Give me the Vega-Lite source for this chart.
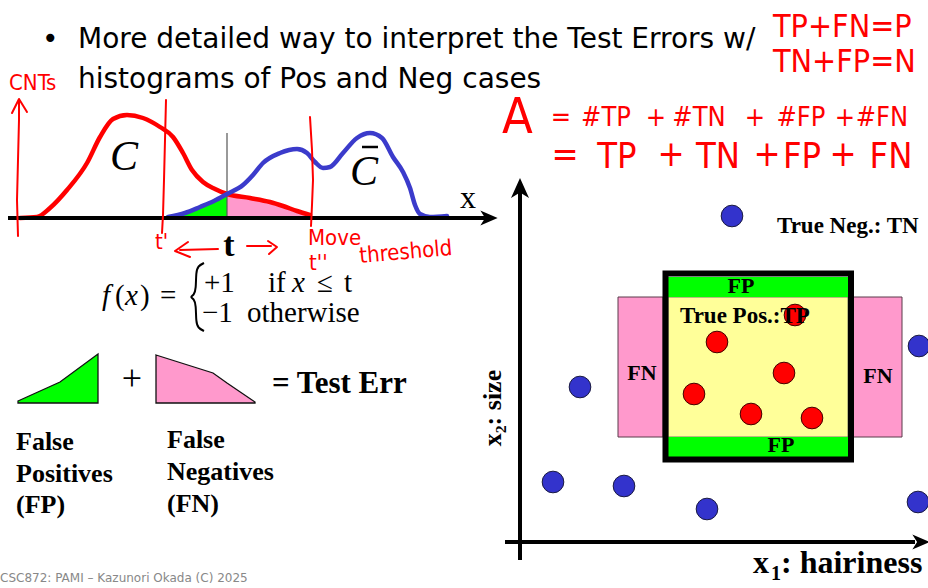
{
  "$schema": "https://vega.github.io/schema/vega-lite/v6.json",
  "width": 928,
  "height": 588,
  "autosize": "none",
  "padding": 0,
  "background": "white",
  "config": {"view": {"stroke": null}},
  "datasets": {
    "curveC": [
      {"x": 20, "y": 218}, {"x": 37, "y": 217}, {"x": 50, "y": 208}, {"x": 67, "y": 190},
      {"x": 87, "y": 163}, {"x": 100, "y": 137}, {"x": 113, "y": 119}, {"x": 127, "y": 115},
      {"x": 143, "y": 118}, {"x": 160, "y": 127}, {"x": 173, "y": 137}, {"x": 183, "y": 153},
      {"x": 192, "y": 170}, {"x": 203, "y": 182}, {"x": 215, "y": 189}, {"x": 227, "y": 194},
      {"x": 250, "y": 198}, {"x": 270, "y": 202}, {"x": 283, "y": 206}, {"x": 297, "y": 211},
      {"x": 310, "y": 215}
    ],
    "curveCbar": [
      {"x": 168, "y": 217}, {"x": 185, "y": 213}, {"x": 200, "y": 207}, {"x": 214, "y": 201},
      {"x": 227, "y": 194}, {"x": 243, "y": 185}, {"x": 253, "y": 175}, {"x": 263, "y": 163},
      {"x": 280, "y": 153}, {"x": 297, "y": 149}, {"x": 307, "y": 153}, {"x": 315, "y": 162},
      {"x": 323, "y": 168}, {"x": 330, "y": 167}, {"x": 343, "y": 153}, {"x": 357, "y": 138},
      {"x": 370, "y": 133}, {"x": 382, "y": 138}, {"x": 393, "y": 157}, {"x": 403, "y": 172},
      {"x": 410, "y": 188}, {"x": 415, "y": 205}, {"x": 420, "y": 214}, {"x": 430, "y": 217},
      {"x": 447, "y": 216}
    ],
    "fpShape": [{"x": 18, "y": 401}, {"x": 60, "y": 382}, {"x": 98, "y": 354}],
    "fnShape": [{"x": 156, "y": 355}, {"x": 213, "y": 373}, {"x": 227, "y": 383}, {"x": 255, "y": 402}],
    "axes": [
      {"x": 8, "y": 218, "x2": 488, "y2": 218},
      {"x": 520, "y": 192, "x2": 520, "y2": 560},
      {"x": 505, "y": 542, "x2": 915, "y2": 542}
    ],
    "arrowRight": [{"x": 489, "y": 218}, {"x": 921, "y": 542}],
    "arrowUp": [{"x": 520, "y": 188}],
    "thresholdLine": [{"x": 227, "y": 133, "x2": 227, "y2": 218}],
    "pinkBands": [
      {"x": 618, "x2": 663, "y": 297, "y2": 437},
      {"x": 851, "x2": 902, "y": 297, "y2": 437}
    ],
    "yellowCore": [{"x": 668, "x2": 848, "y": 297, "y2": 437}],
    "greenBands": [
      {"x": 668, "x2": 848, "y": 277, "y2": 297},
      {"x": 668, "x2": 848, "y": 437, "y2": 457}
    ],
    "frame": [{"x": 665.5, "x2": 851, "y": 273.5, "y2": 459.5}],
    "negatives": [
      {"x": 732, "y": 216}, {"x": 580, "y": 387}, {"x": 553, "y": 482}, {"x": 624, "y": 486},
      {"x": 707, "y": 509}, {"x": 919, "y": 346}, {"x": 918, "y": 502}
    ],
    "positives": [
      {"x": 795, "y": 315}, {"x": 717, "y": 342}, {"x": 784, "y": 373},
      {"x": 694, "y": 394}, {"x": 751, "y": 414}, {"x": 812, "y": 418}
    ],
    "ink": [
      {"s": "cnts", "k": 0, "x": 18, "y": 236}, {"s": "cnts", "k": 1, "x": 17, "y": 200},
      {"s": "cnts", "k": 2, "x": 18, "y": 160}, {"s": "cnts", "k": 3, "x": 19, "y": 120},
      {"s": "cnts", "k": 4, "x": 19, "y": 100},
      {"s": "cntsHead", "k": 0, "x": 12, "y": 113}, {"s": "cntsHead", "k": 1, "x": 19, "y": 99},
      {"s": "cntsHead", "k": 2, "x": 27, "y": 112},
      {"s": "t1", "k": 0, "x": 166, "y": 100}, {"s": "t1", "k": 1, "x": 165, "y": 140},
      {"s": "t1", "k": 2, "x": 164, "y": 180}, {"s": "t1", "k": 3, "x": 163, "y": 215},
      {"s": "t1", "k": 4, "x": 162, "y": 233},
      {"s": "t2", "k": 0, "x": 310, "y": 117}, {"s": "t2", "k": 1, "x": 312, "y": 150},
      {"s": "t2", "k": 2, "x": 313, "y": 180}, {"s": "t2", "k": 3, "x": 312, "y": 205},
      {"s": "t2", "k": 4, "x": 311, "y": 226},
      {"s": "leftShaft", "k": 0, "x": 180, "y": 250}, {"s": "leftShaft", "k": 1, "x": 218, "y": 249},
      {"s": "leftHead", "k": 0, "x": 188, "y": 242}, {"s": "leftHead", "k": 1, "x": 175, "y": 251},
      {"s": "leftHead", "k": 2, "x": 190, "y": 257},
      {"s": "rightShaft", "k": 0, "x": 247, "y": 246}, {"s": "rightShaft", "k": 1, "x": 271, "y": 246},
      {"s": "rightHead", "k": 0, "x": 268, "y": 241}, {"s": "rightHead", "k": 1, "x": 277, "y": 247},
      {"s": "rightHead", "k": 2, "x": 269, "y": 254}
    ],
    "brace": [
      {"k": 0, "x": 204, "y": 263}, {"k": 1, "x": 198, "y": 266}, {"k": 2, "x": 196, "y": 272},
      {"k": 3, "x": 196, "y": 289}, {"k": 4, "x": 194, "y": 295}, {"k": 5, "x": 190, "y": 297},
      {"k": 6, "x": 194, "y": 299}, {"k": 7, "x": 196, "y": 305}, {"k": 8, "x": 196, "y": 322},
      {"k": 9, "x": 198, "y": 328}, {"k": 10, "x": 204, "y": 331}
    ],
    "cbarBar": [{"x": 362, "y": 147, "x2": 378, "y2": 147}],
    "heading": [
      {"x": 42, "y": 48, "t": "•"},
      {"x": 78, "y": 48, "t": "More detailed way to interpret the Test Errors w/"},
      {"x": 78, "y": 88, "t": "histograms of Pos and Neg cases"}
    ],
    "footer": [{"x": 0, "y": 582, "t": "CSC872: PAMI – Kazunori Okada (C) 2025"}],
    "classLabels": [{"x": 124, "y": 170, "t": "C"}, {"x": 364, "y": 185, "t": "C"}],
    "xHist": [{"x": 468, "y": 208, "t": "x"}],
    "tBold": [{"x": 229, "y": 256, "t": "t"}],
    "formulaUpright": [
      {"x": 115, "y": 305, "t": "("}, {"x": 140, "y": 305, "t": ")"}, {"x": 160, "y": 305, "t": "="},
      {"x": 204, "y": 292, "t": "+1"}, {"x": 268, "y": 292, "t": "if"},
      {"x": 317, "y": 292, "t": "≤"}, {"x": 344, "y": 292, "t": "t"},
      {"x": 202, "y": 322, "t": "−1"}, {"x": 247, "y": 322, "t": "otherwise"}
    ],
    "formulaItalic": [
      {"x": 102, "y": 305, "t": "f"}, {"x": 125, "y": 305, "t": "x"}, {"x": 292, "y": 292, "t": "x"}
    ],
    "plusSign": [{"x": 132, "y": 390, "t": "+"}],
    "testErr": [{"x": 272, "y": 393, "t": "= Test Err"}],
    "legendWords": [
      {"x": 16, "y": 450, "t": "False"}, {"x": 16, "y": 482, "t": "Positives"}, {"x": 16, "y": 513, "t": "(FP)"},
      {"x": 167, "y": 448, "t": "False"}, {"x": 167, "y": 480, "t": "Negatives"}, {"x": 167, "y": 512, "t": "(FN)"}
    ],
    "regionLabels": [
      {"x": 777, "y": 233, "t": "True Neg.: TN"},
      {"x": 680, "y": 323, "t": "True Pos.:TP"}
    ],
    "cellLabels": [
      {"x": 741, "y": 293, "t": "FP"}, {"x": 781, "y": 452, "t": "FP"},
      {"x": 642, "y": 380, "t": "FN"}, {"x": 878, "y": 383, "t": "FN"}
    ],
    "axisTitle": [{"x": 753, "y": 573, "t": "x"}, {"x": 781, "y": 573, "t": ": hairiness"}],
    "axisSub": [{"x": 771, "y": 580, "t": "1"}],
    "yTitle": [{"x": 501, "y": 408, "t": "x₂: size"}],
    "handBig": [{"x": 773, "y": 37, "t": "TP+FN=P"}, {"x": 773, "y": 72, "t": "TN+FP=N"}],
    "handA": [{"x": 502, "y": 133, "t": "A"}],
    "handSum1": [
      {"x": 561, "y": 126, "t": "="}, {"x": 606, "y": 126, "t": "#TP"}, {"x": 656, "y": 126, "t": "+"},
      {"x": 699, "y": 126, "t": "#TN"}, {"x": 755, "y": 126, "t": "+"}, {"x": 801, "y": 126, "t": "#FP"},
      {"x": 845, "y": 126, "t": "+"}, {"x": 882, "y": 126, "t": "#FN"}
    ],
    "handSum2": [
      {"x": 565, "y": 166, "t": "="}, {"x": 617, "y": 168, "t": "TP"}, {"x": 671, "y": 166, "t": "+"},
      {"x": 718, "y": 168, "t": "TN"}, {"x": 767, "y": 166, "t": "+"}, {"x": 802, "y": 168, "t": "FP"},
      {"x": 843, "y": 166, "t": "+"}, {"x": 891, "y": 168, "t": "FN"}
    ],
    "handSmall": [
      {"x": 9, "y": 90, "t": "CNTs"}, {"x": 155, "y": 249, "t": "t'"},
      {"x": 308, "y": 245, "t": "Move"}, {"x": 309, "y": 270, "t": "t''"}
    ],
    "handTilt": [{"x": 360, "y": 263, "t": "threshold"}]
  },
  "encoding": {
    "x": {"field": "x", "type": "quantitative", "scale": {"domain": [0, 928], "nice": false, "zero": false}, "axis": null},
    "y": {"field": "y", "type": "quantitative", "scale": {"domain": [0, 588], "nice": false, "zero": false, "reverse": true}, "axis": null}
  },
  "layer": [
    {
      "data": {"name": "curveCbar"},
      "transform": [{"filter": "datum.x <= 227"}],
      "mark": {"type": "area", "orient": "vertical", "interpolate": "monotone", "color": "#00FF00"},
      "encoding": {"y2": {"datum": 218}}
    },
    {
      "data": {"name": "curveC"},
      "transform": [{"filter": "datum.x >= 227"}],
      "mark": {"type": "area", "orient": "vertical", "interpolate": "monotone", "color": "#FF99CC"},
      "encoding": {"y2": {"datum": 218}}
    },
    {
      "data": {"name": "fpShape"},
      "mark": {"type": "area", "orient": "vertical", "fill": "#00FF00", "stroke": "#111111", "strokeWidth": 1.3},
      "encoding": {"y2": {"datum": 403}}
    },
    {
      "data": {"name": "fnShape"},
      "mark": {"type": "area", "orient": "vertical", "fill": "#FF99CC", "stroke": "#111111", "strokeWidth": 1.3},
      "encoding": {"y2": {"datum": 403}}
    },
    {
      "data": {"name": "thresholdLine"},
      "mark": {"type": "rule", "color": "#555555", "strokeWidth": 1.2},
      "encoding": {"x2": {"field": "x2"}, "y2": {"field": "y2"}}
    },
    {
      "data": {"name": "curveC"},
      "mark": {"type": "line", "interpolate": "monotone", "color": "#FF0000", "strokeWidth": 4.5, "strokeCap": "round"},
      "encoding": {}
    },
    {
      "data": {"name": "curveCbar"},
      "mark": {"type": "line", "interpolate": "monotone", "color": "#3B3BCB", "strokeWidth": 4.5, "strokeCap": "round"},
      "encoding": {}
    },
    {
      "data": {"name": "axes"},
      "mark": {"type": "rule", "color": "black", "strokeWidth": 4},
      "encoding": {"x2": {"field": "x2"}, "y2": {"field": "y2"}}
    },
    {
      "data": {"name": "arrowRight"},
      "mark": {"type": "point", "shape": "M 1 0 L -1 -0.88 L -0.45 0 L -1 0.88 Z", "filled": true, "color": "black", "opacity": 1, "size": 300, "strokeWidth": 0}
    },
    {
      "data": {"name": "arrowUp"},
      "mark": {"type": "point", "shape": "M 0 -1 L 0.9 1 L 0 0.45 L -0.9 1 Z", "filled": true, "color": "black", "opacity": 1, "size": 400, "strokeWidth": 0}
    },
    {
      "data": {"name": "pinkBands"},
      "mark": {"type": "rect", "fill": "#FF99CC", "stroke": "#5a3a4a", "strokeWidth": 1},
      "encoding": {"x2": {"field": "x2"}, "y2": {"field": "y2"}}
    },
    {
      "data": {"name": "yellowCore"},
      "mark": {"type": "rect", "fill": "#FFFF99", "stroke": "#555555", "strokeWidth": 0.8},
      "encoding": {"x2": {"field": "x2"}, "y2": {"field": "y2"}}
    },
    {
      "data": {"name": "greenBands"},
      "mark": {"type": "rect", "fill": "#00FF00"},
      "encoding": {"x2": {"field": "x2"}, "y2": {"field": "y2"}}
    },
    {
      "data": {"name": "frame"},
      "mark": {"type": "rect", "fill": null, "stroke": "black", "strokeWidth": 6},
      "encoding": {"x2": {"field": "x2"}, "y2": {"field": "y2"}}
    },
    {
      "data": {"name": "negatives"},
      "mark": {"type": "circle", "fill": "#3333CC", "stroke": "#1a1a40", "strokeWidth": 1, "opacity": 1, "size": 470}
    },
    {
      "data": {"name": "positives"},
      "mark": {"type": "circle", "fill": "#FF0000", "stroke": "#400000", "strokeWidth": 1, "opacity": 1, "size": 470}
    },
    {
      "data": {"name": "ink"},
      "mark": {"type": "line", "color": "#FF0000", "strokeWidth": 2, "strokeCap": "round", "strokeJoin": "round"},
      "encoding": {"detail": {"field": "s"}, "order": {"field": "k"}}
    },
    {
      "data": {"name": "brace"},
      "mark": {"type": "line", "interpolate": "basis", "color": "black", "strokeWidth": 2},
      "encoding": {"order": {"field": "k"}}
    },
    {
      "data": {"name": "cbarBar"},
      "mark": {"type": "rule", "color": "black", "strokeWidth": 2.5},
      "encoding": {"x2": {"field": "x2"}, "y2": {"field": "y2"}}
    },
    {
      "data": {"name": "heading"},
      "mark": {"type": "text", "font": "DejaVu Sans", "fontSize": 28, "align": "left", "baseline": "alphabetic", "color": "black"},
      "encoding": {"text": {"field": "t"}}
    },
    {
      "data": {"name": "footer"},
      "mark": {"type": "text", "font": "DejaVu Sans", "fontSize": 12, "align": "left", "baseline": "alphabetic", "color": "#888888"},
      "encoding": {"text": {"field": "t"}}
    },
    {
      "data": {"name": "classLabels"},
      "mark": {"type": "text", "font": "Liberation Serif", "fontStyle": "italic", "fontSize": 42, "align": "center", "baseline": "alphabetic", "color": "black"},
      "encoding": {"text": {"field": "t"}}
    },
    {
      "data": {"name": "xHist"},
      "mark": {"type": "text", "font": "Liberation Serif", "fontSize": 32, "align": "center", "baseline": "alphabetic", "color": "black"},
      "encoding": {"text": {"field": "t"}}
    },
    {
      "data": {"name": "tBold"},
      "mark": {"type": "text", "font": "Liberation Serif", "fontWeight": "bold", "fontSize": 34, "align": "center", "baseline": "alphabetic", "color": "black"},
      "encoding": {"text": {"field": "t"}}
    },
    {
      "data": {"name": "formulaUpright"},
      "mark": {"type": "text", "font": "Liberation Serif", "fontSize": 29, "align": "left", "baseline": "alphabetic", "color": "black"},
      "encoding": {"text": {"field": "t"}}
    },
    {
      "data": {"name": "formulaItalic"},
      "mark": {"type": "text", "font": "Liberation Serif", "fontStyle": "italic", "fontSize": 29, "align": "left", "baseline": "alphabetic", "color": "black"},
      "encoding": {"text": {"field": "t"}}
    },
    {
      "data": {"name": "plusSign"},
      "mark": {"type": "text", "font": "Liberation Serif", "fontSize": 36, "align": "center", "baseline": "alphabetic", "color": "black"},
      "encoding": {"text": {"field": "t"}}
    },
    {
      "data": {"name": "testErr"},
      "mark": {"type": "text", "font": "Liberation Serif", "fontWeight": "bold", "fontSize": 31, "align": "left", "baseline": "alphabetic", "color": "black"},
      "encoding": {"text": {"field": "t"}}
    },
    {
      "data": {"name": "legendWords"},
      "mark": {"type": "text", "font": "Liberation Serif", "fontWeight": "bold", "fontSize": 26, "align": "left", "baseline": "alphabetic", "color": "black"},
      "encoding": {"text": {"field": "t"}}
    },
    {
      "data": {"name": "regionLabels"},
      "mark": {"type": "text", "font": "Liberation Serif", "fontWeight": "bold", "fontSize": 23, "align": "left", "baseline": "alphabetic", "color": "black"},
      "encoding": {"text": {"field": "t"}}
    },
    {
      "data": {"name": "cellLabels"},
      "mark": {"type": "text", "font": "Liberation Serif", "fontWeight": "bold", "fontSize": 22, "align": "center", "baseline": "alphabetic", "color": "black"},
      "encoding": {"text": {"field": "t"}}
    },
    {
      "data": {"name": "axisTitle"},
      "mark": {"type": "text", "font": "Liberation Serif", "fontWeight": "bold", "fontSize": 32, "align": "left", "baseline": "alphabetic", "color": "black"},
      "encoding": {"text": {"field": "t"}}
    },
    {
      "data": {"name": "axisSub"},
      "mark": {"type": "text", "font": "Liberation Serif", "fontWeight": "bold", "fontSize": 20, "align": "left", "baseline": "alphabetic", "color": "black"},
      "encoding": {"text": {"field": "t"}}
    },
    {
      "data": {"name": "yTitle"},
      "mark": {"type": "text", "font": "Liberation Serif", "fontWeight": "bold", "fontSize": 26, "align": "center", "baseline": "alphabetic", "angle": 270, "color": "black"},
      "encoding": {"text": {"field": "t"}}
    },
    {
      "data": {"name": "handBig"},
      "mark": {"type": "text", "font": "DejaVu Sans Condensed, Liberation Sans Narrow, Roboto", "fontSize": 32, "align": "left", "baseline": "alphabetic", "color": "#FF0000"},
      "encoding": {"text": {"field": "t"}}
    },
    {
      "data": {"name": "handA"},
      "mark": {"type": "text", "font": "DejaVu Sans Condensed, Liberation Sans Narrow, Roboto", "fontSize": 50, "align": "left", "baseline": "alphabetic", "color": "#FF0000"},
      "encoding": {"text": {"field": "t"}}
    },
    {
      "data": {"name": "handSum1"},
      "mark": {"type": "text", "font": "DejaVu Sans Condensed, Liberation Sans Narrow, Roboto", "fontSize": 27, "align": "center", "baseline": "alphabetic", "color": "#FF0000"},
      "encoding": {"text": {"field": "t"}}
    },
    {
      "data": {"name": "handSum2"},
      "mark": {"type": "text", "font": "DejaVu Sans Condensed, Liberation Sans Narrow, Roboto", "fontSize": 36, "align": "center", "baseline": "alphabetic", "color": "#FF0000"},
      "encoding": {"text": {"field": "t"}}
    },
    {
      "data": {"name": "handSmall"},
      "mark": {"type": "text", "font": "DejaVu Sans Condensed, Liberation Sans Narrow, Roboto", "fontSize": 22, "align": "left", "baseline": "alphabetic", "color": "#FF0000"},
      "encoding": {"text": {"field": "t"}}
    },
    {
      "data": {"name": "handTilt"},
      "mark": {"type": "text", "font": "DejaVu Sans Condensed, Liberation Sans Narrow, Roboto", "fontSize": 22, "align": "left", "baseline": "alphabetic", "angle": 355, "color": "#FF0000"},
      "encoding": {"text": {"field": "t"}}
    }
  ]
}
